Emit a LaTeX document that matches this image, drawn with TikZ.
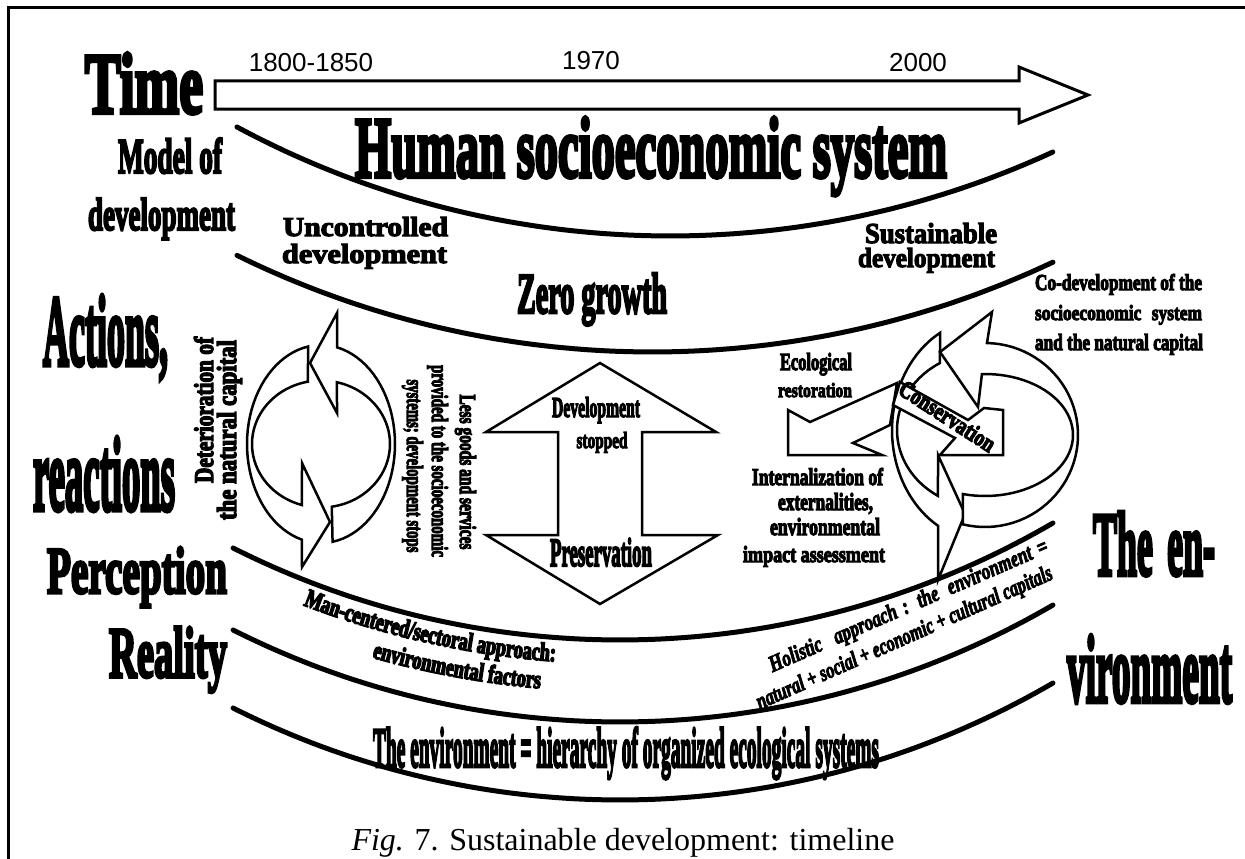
\documentclass[tikz,border=0pt]{standalone}
\usepackage{fontspec}
\usepackage{graphicx}
\usetikzlibrary{decorations.text}
\setmainfont{Liberation Serif}
\newfontfamily\heavy{Liberation Serif}[BoldFeatures={FakeBold=5},BoldItalicFeatures={FakeBold=4}]
\newfontfamily\wideheavy{Liberation Serif}[BoldFeatures={FakeBold=4}]
\newfontfamily\curvy{Liberation Serif}[BoldFeatures={FakeBold=5,FakeStretch=0.7}]
\newfontfamily\yearfont{Liberation Sans}
% text squeezed/stretched to a given width and height (in pt)
\newcommand{\fitto}[3]{\resizebox{#1pt}{#2pt}{\heavy\bfseries #3}}
\newcommand{\fitit}[3]{\resizebox{#1pt}{#2pt}{\heavy\bfseries\itshape #3}}
\newcommand{\fitwide}[3]{\resizebox{#1pt}{#2pt}{\wideheavy\bfseries #3}}
\begin{document}
\begin{tikzpicture}[x=1pt,y=-1pt,
  txt/.style={inner sep=0pt,outer sep=0pt,anchor=base west},
  ctxt/.style={inner sep=0pt,outer sep=0pt,anchor=base},
  band/.style={line width=5pt,line cap=round},
  blk/.style={draw=black,line width=2.5pt,fill=white,line join=miter},
  year/.style={inner sep=0pt,outer sep=0pt,anchor=base,font=\yearfont\fontsize{26}{26}\selectfont}]
\useasboundingbox (0,0) rectangle (1245,859);
\fill[white] (0,0) rectangle (1245,859);
% frame
\draw[line width=3pt] (8,880) -- (8,8) -- (1270,8);

% time arrow
\draw[blk,line width=3pt] (215,81) -- (1019,81) -- (1019,67) -- (1088,95) -- (1019,123) -- (1019,109) -- (215,109) -- cycle;
\node[year] (y1) at (311,71) {1800-1850};
\node[year] (y2) at (591,70) {1970};
\node[year] (y3) at (918,71) {2000};

% curved bands
\draw[band] plot[domain=-28.25:24.74,samples=80] ({670+915*sin(\x)},{-679+915*cos(\x)});
\draw[band] plot[domain=-26.2:25.25,samples=80] ({652+940*sin(\x)},{-588+940*cos(\x)});
\draw[band] plot[domain=-26.74:30.23,samples=80] ({620+860*sin(\x)},{-220+860*cos(\x)});
\draw[band] plot[domain=-26.74:30.23,samples=80] ({620+860*sin(\x)},{-138+860*cos(\x)});
\draw[band] plot[domain=-26.74:30.23,samples=80] ({620+860*sin(\x)},{-60+860*cos(\x)});

% left side labels
\node[txt] (time) at (85,113) {\fitto{118}{60}{Time}};
\node[txt] (model) at (118,173) {\fitto{104}{35}{Model of}};
\node[txt] (dev) at (88,230) {\fitto{147}{32}{development}};
\node[txt] (act) at (43,365) {\fitto{125}{70}{Actions,}};
\node[txt] (react) at (33,510) {\fitto{142}{73}{reactions}};
\node[txt] (perc) at (47,593) {\fitto{180}{46}{Perception}};
\node[txt] (real) at (109,677) {\fitto{118}{50}{Reality}};

% band titles
\node[txt] (human) at (355,177) {\fitto{592}{60}{Human socioeconomic system}};
\node[txt] (zero) at (517,313) {\fitto{150}{40}{Zero growth}};
\node[txt] (unc1) at (283,236) {\fitwide{165}{19}{Uncontrolled}};
\node[txt] (unc2) at (282,263) {\fitwide{165}{19}{development}};
\node[txt] (sus1) at (865,243) {\fitwide{132}{20}{Sustainable}};
\node[txt] (sus2) at (858,267) {\fitwide{137}{19}{development}};
\node[txt] (hier) at (373,767) {\fitto{506}{40}{The environment = hierarchy of organized ecological systems}};
\node[txt] (env1) at (1093,575) {\fitto{122}{63}{The\hspace{0.4em}en-}};
\node[txt] (env2) at (1067,702) {\fitto{165}{67}{vironment}};

% left cycle of two arrows
\draw[blk] plot[domain=100:255,samples=40] ({321+74*cos(\x)},{444-99*sin(\x)}) -- (302,567) -- (330,522) -- (302,463)
  -- plot[domain=254:101,samples=40] ({321+69*cos(\x)},{444-63.5*sin(\x)}) -- cycle;
\draw[blk] plot[domain=-81:77.5,samples=40] ({321+74*cos(\x)},{444-99*sin(\x)}) -- (337,313) -- (310,363) -- (337,413)
  -- plot[domain=76.6:-81,samples=40] ({321+69*cos(\x)},{444-63.5*sin(\x)}) -- cycle;
\node[ctxt,rotate=90] (det1) at (213,410) {\fitto{146}{19}{Deterioration of}};
\node[ctxt,rotate=90] (det2) at (236,430) {\fitto{180}{19}{the natural capital}};

% stop texts
\node[ctxt,rotate=-90] (less1) at (460,472) {\fitto{155}{16}{Less goods and services}};
\node[ctxt,rotate=-90] (less2) at (432,461) {\fitto{192}{16}{provided to the socioeconomic}};
\node[ctxt,rotate=-90] (less3) at (407,466) {\fitto{173}{16}{systems; development stops}};

% double arrow
\draw[blk] (600,363) -- (716,432) -- (642,432) -- (642,535) -- (718,535) -- (600,604) -- (486,535) -- (558,535) -- (558,432) -- (486,432) -- cycle;
\node[ctxt] (ds1) at (596,417) {\fitto{88}{20}{Development}};
\node[ctxt] (ds2) at (602,448) {\fitto{51}{16}{stopped}};
\node[ctxt] (pres) at (601,566) {\fitto{102}{28}{Preservation}};

% right cluster: cycle of two ring arrows with block arrows across it
\draw[blk] plot[domain=118.9:239.7,samples=40] ({985+93*cos(\x)},{430-111*sin(\x)}) -- (938,580) -- (965,514) -- (938,455)
  -- plot[domain=237.7:120.8,samples=40] ({985+88*cos(\x)},{430-78*sin(\x)}) -- cycle;
\draw[blk] (788,410) -- (810,422) -- (897,383) -- (890,425) -- (853,443) -- (882,455) -- (788,455) -- cycle;
\draw[blk] (900,382) -- (968,420) -- (984,408) -- (1003,410) -- (1003,455) -- (940,455) -- (955,438) -- (893,405) -- cycle;
\draw[blk] plot[domain=-103.7:88.8,samples=50] ({985+93*cos(\x)},{435-92*sin(\x)}) -- (992,312) -- (940,352) -- (978,407)
  -- plot[domain=92:-104.5,samples=50] ({985+88*cos(\x)},{435-61*sin(\x)}) -- cycle;
\node[ctxt,rotate=-33] (cons) at (943,423) {\fitto{110}{17}{Conservation}};

\node[txt] (eco1) at (780,370) {\fitto{72}{17}{Ecological}};
\node[txt] (eco2) at (778,397) {\fitto{74}{14}{restoration}};
\node[txt] (int1) at (752,485) {\fitto{131}{17}{Internalization of}};
\node[txt] (int2) at (778,510) {\fitto{95}{17}{externalities,}};
\node[txt] (int3) at (770,535) {\fitto{110}{17}{environmental}};
\node[txt] (int4) at (743,562) {\fitto{142}{16}{impact assessment}};
\node[txt] (co1) at (1035,290) {\fitto{167}{16}{Co-development of the}};
\node[txt] (co2) at (1035,320) {\fitto{167}{15}{socioeconomic\hspace{0.6em}system}};
\node[txt] (co3) at (1035,350) {\fitto{168}{16}{and the natural capital}};

% perception texts set along arcs parallel to the bands
\path[decorate,decoration={text along path,text align=center,
  text={|\curvy\bfseries\fontsize{26}{26}\selectfont|Man-centered/sectoral approach:}}]
  plot[domain=-26.6:1.4,samples=60] ({620+884*sin(\x)},{-220+884*cos(\x)});
\path[decorate,decoration={text along path,text align=center,
  text={|\curvy\bfseries\fontsize{26}{26}\selectfont|environmental factors}}]
  plot[domain=-24.4:3.6,samples=60] ({620+912*sin(\x)},{-220+912*cos(\x)});
\node[ctxt,rotate=23.5] (hol1) at (911,612) {\fitit{302}{16}{Holistic\hspace{0.8em}approach\hspace{0.4em}:\hspace{0.6em}the\hspace{0.6em}environment\hspace{0.4em}=}};
\node[ctxt,rotate=24] (hol2) at (907,644) {\fitit{322}{16}{natural + social + economic + cultural capitals}};

% caption
\node[ctxt,font=\fontsize{32}{32}\selectfont] (cap) at (623,850) {\textit{Fig.} 7. Sustainable development: timeline};
\end{tikzpicture}
\end{document}
